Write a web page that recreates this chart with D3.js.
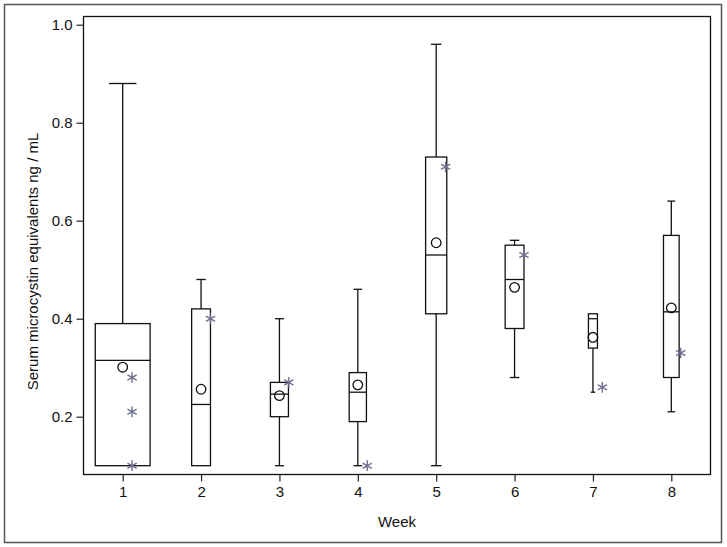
<!DOCTYPE html>
<html>
<head>
<meta charset="utf-8">
<script src="https://cdn.jsdelivr.net/npm/d3@7"></script>
<style>
  body { margin: 0; background: #fff; }
  svg { display: block; font-family: "Liberation Sans", Arial, sans-serif; }
</style>
</head>
<body>
<div id="chart"></div>
<script>
// weekly box plot of serum microcystin values

const WEEKS = [1, 2, 3, 4, 5, 6, 7, 8];
const WHISKER_LOW = [0.10, 0.10, 0.10, 0.10, 0.10, 0.28, 0.25, 0.21];
const Q1 = [0.10, 0.10, 0.20, 0.19, 0.41, 0.38, 0.34, 0.28];
const MEDIAN = [0.315, 0.225, 0.246, 0.25, 0.53, 0.48, 0.40, 0.414];
const Q3 = [0.39, 0.42, 0.27, 0.29, 0.73, 0.55, 0.41, 0.57];
const WHISKER_HIGH = [0.88, 0.48, 0.40, 0.46, 0.96, 0.56, 0.41, 0.64];
const MEAN = [0.301, 0.256, 0.243, 0.265, 0.555, 0.464, 0.362, 0.422];
// relative box widths (fraction of one week)
const REL_WIDTH = [0.70, 0.24, 0.23, 0.22, 0.27, 0.24, 0.115, 0.20];
// asterisk points: [week, value]
const STARS = [
    [1, 0.28], [1, 0.21], [1, 0.10],
    [2, 0.40], [3, 0.27], [4, 0.10], [5, 0.71],
    [6, 0.53], [7, 0.26], [8, 0.33]
];
const Y_TICKS = [0.2, 0.4, 0.6, 0.8, 1.0];

const W = 727, H = 547;
const plot = { left: 83.5, top: 16.5, right: 710.5, bottom: 474.5 };

const svg = d3.select("#chart").append("svg")
    .attr("width", W)
    .attr("height", H);

// outer border
svg.append("rect")
    .attr("x", 4.5).attr("y", 4.5)
    .attr("width", 717).attr("height", 538)
    .attr("fill", "none")
    .attr("stroke", "#555")
    .attr("stroke-width", 1.5);

const x = d3.scaleLinear()
    .domain([0.5, 8.5])
    .range([plot.left, plot.right]);

const y = d3.scaleLinear()
    .domain([0.2 - (474.5 - 416.7) / 490, 0.2 + (416.7 - 16.5) / 490])
    .range([plot.bottom, plot.top]);

const unit = x(2) - x(1);

// axes
svg.append("g")
    .attr("transform", `translate(0,${plot.bottom})`)
    .call(d3.axisBottom(x).tickValues(WEEKS).tickSize(7).tickPadding(5).tickFormat(d3.format("d")))
    .call(g => g.select(".domain").remove())
    .call(g => g.selectAll("text").style("font-size", "15px").attr("fill", "#111"))
    .call(g => g.selectAll("line").attr("stroke", "#222").attr("stroke-width", 1.2));

svg.append("g")
    .attr("transform", `translate(${plot.left},0)`)
    .call(d3.axisLeft(y).tickValues(Y_TICKS).tickSize(7).tickPadding(4).tickFormat(d3.format(".1f")))
    .call(g => g.select(".domain").remove())
    .call(g => g.selectAll("text").style("font-size", "15px").attr("fill", "#111"))
    .call(g => g.selectAll("line").attr("stroke", "#222").attr("stroke-width", 1.2));

// plot frame
svg.append("rect")
    .attr("x", plot.left).attr("y", plot.top)
    .attr("width", plot.right - plot.left)
    .attr("height", plot.bottom - plot.top)
    .attr("fill", "none")
    .attr("stroke", "#111")
    .attr("stroke-width", 1.3);

// axis titles
svg.append("text")
    .attr("x", x(4.5))
    .attr("y", 527)
    .attr("text-anchor", "middle")
    .style("font-size", "15px")
    .attr("fill", "#111")
    .text("Week");

svg.append("text")
    .attr("transform", `translate(38,${(plot.top + plot.bottom) / 2 + 16}) rotate(-90)`)
    .attr("text-anchor", "middle")
    .style("font-size", "15px")
    .attr("fill", "#111")
    .text("Serum microcystin equivalents ng / mL");

// boxes
const boxes = WEEKS.map((w, i) => ({
    week: w, lo: WHISKER_LOW[i], q1: Q1[i], med: MEDIAN[i],
    q3: Q3[i], hi: WHISKER_HIGH[i], mean: MEAN[i], bw: REL_WIDTH[i] * unit
}));

const g = svg.append("g")
    .attr("stroke", "#111")
    .attr("stroke-width", 1.3)
    .attr("fill", "none");

const box = g.selectAll(".box")
    .data(boxes)
    .enter().append("g")
    .attr("class", "box");

// whiskers
box.filter(d => d.hi > d.q3).append("line")
    .attr("x1", d => x(d.week)).attr("x2", d => x(d.week))
    .attr("y1", d => y(d.q3)).attr("y2", d => y(d.hi));
box.filter(d => d.lo < d.q1).append("line")
    .attr("x1", d => x(d.week)).attr("x2", d => x(d.week))
    .attr("y1", d => y(d.q1)).attr("y2", d => y(d.lo));

// caps
box.filter(d => d.hi > d.q3).append("line")
    .attr("x1", d => x(d.week) - d.bw / 4).attr("x2", d => x(d.week) + d.bw / 4)
    .attr("y1", d => y(d.hi)).attr("y2", d => y(d.hi));
box.filter(d => d.lo < d.q1).append("line")
    .attr("x1", d => x(d.week) - d.bw / 4).attr("x2", d => x(d.week) + d.bw / 4)
    .attr("y1", d => y(d.lo)).attr("y2", d => y(d.lo));

// box body
box.append("rect")
    .attr("x", d => x(d.week) - d.bw / 2)
    .attr("width", d => d.bw)
    .attr("y", d => y(d.q3))
    .attr("height", d => y(d.q1) - y(d.q3))
    .attr("fill", "#fff");

// median
box.append("line")
    .attr("x1", d => x(d.week) - d.bw / 2).attr("x2", d => x(d.week) + d.bw / 2)
    .attr("y1", d => y(d.med)).attr("y2", d => y(d.med));

// mean
box.append("circle")
    .attr("cx", d => x(d.week))
    .attr("cy", d => y(d.mean))
    .attr("r", 4.8)
    .attr("fill", "none");

// asterisks
const star = d3.symbol().type(d3.symbolAsterisk).size(80);
svg.append("g")
    .selectAll("path")
    .data(STARS)
    .enter().append("path")
    .attr("transform", d => `translate(${x(d[0] + 0.12)},${y(d[1])})`)
    .attr("d", star)
    .attr("fill", "none")
    .attr("stroke", "#707090")
    .attr("stroke-width", 1.4);
</script>
</body>
</html>
